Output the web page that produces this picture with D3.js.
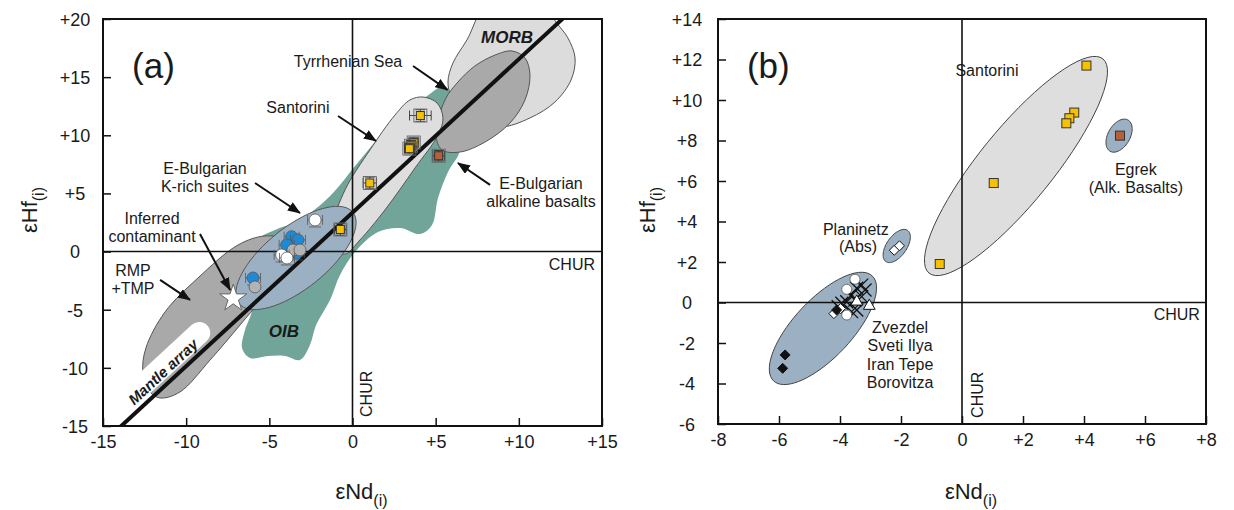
<!DOCTYPE html>
<html>
<head>
<meta charset="utf-8">
<script src="https://d3js.org/d3.v7.min.js"></script>
<style>
  body { margin: 0; background: #fff; }
  text { font-family: "Liberation Sans", Arial, sans-serif; fill: #1a1a1a; }
</style>
</head>
<body>
<svg id="chart" width="1234" height="510"></svg>
<script>
// ---- values: [eNd, eHf] ----
// Santorini lavas (same samples in both panels)
const santoriniNd = [4.08, 3.68, 3.52, 3.42, 1.04, -0.73];
const santoriniHf = [11.7, 9.38, 9.1, 8.85, 5.9, 1.9];
const santoriniErrNd = [0.65, 0.3, 0.3, 0.3, 0.4, 0.35];
const santoriniErrHf = [0.5, 0.45, 0.45, 0.45, 0.5, 0.5];
// E-Bulgarian alkaline basalts (Egrek)
const egrekNd = [5.18];
const egrekHf = [8.24];

// panel a: K-rich suites
const blueNd = [-3.66, -3.28, -3.96, -3.35, -5.98];
const blueHf = [1.28, 1.0, 0.57, -0.12, -2.27];
const grayNd = [-3.58, -3.16, -5.86];
const grayHf = [0.14, 0.14, -3.04];
const whiteNd = [-2.25, -4.26, -3.94];
const whiteHf = [2.72, -0.29, -0.55];
const contaminant = [-7.17, -4.02];

// panel b: K-rich localities
const planinetzNd = [-2.22, -2.05];
const planinetzHf = [2.58, 2.8];
const blackDiaNd = [-4.11, -5.8, -5.88];
const blackDiaHf = [-0.37, -2.59, -3.25];
const whiteDiaNd = [-4.2, -3.98];
const whiteDiaHf = [-0.55, -0.3];
const circNd = [-3.51, -3.78, -3.78];
const circHf = [1.15, 0.65, -0.62];
const triNd = [-3.04, -3.45];
const triHf = [-0.17, 0.04];
const crossNd = [-3.29, -3.45, -3.62, -3.51, -3.78, -3.94, -4.06, -3.45, -3.29, -3.18, -3.62];
const crossHf = [0.86, 0.7, 0.37, 0.12, 0.04, -0.04, -0.21, -0.37, 0.29, 0.62, -0.45];

// reference fields, panel a (outline vertices)
const oibField = [[5.56,14.24],[6.16,11.75],[6.46,8.74],[5.74,6.85],[5.14,4.61],[4.78,2.29],[4.06,1.51],[2.86,2.03],[1.53,1.69],[0.15,-0.03],[-0.75,-2.01],[-1.35,-4.16],[-2.19,-6.31],[-2.56,-8.03],[-3.16,-9.32],[-4.06,-8.98],[-5.08,-8.98],[-6.16,-9.15],[-6.64,-8.29],[-6.46,-6.74],[-6.04,-5.02],[-6.16,-2.44],[-5.68,1.0],[-4.66,1.86],[-3.16,2.72],[-1.35,4.78],[0.45,7.88],[2.56,11.32],[4.48,13.38]];
const morbField = [[8.27,21.64],[11.27,21.64],[12.23,19.74],[12.95,18.37],[13.38,16.65],[13.14,14.76],[12.17,12.86],[10.67,11.49],[8.87,10.71],[7.06,11.49],[5.98,13.21],[5.74,14.58],[6.04,16.22],[6.88,18.2]];
const rmpField = [[-11.57,-12.59],[-12.17,-12.07],[-12.6,-10.35],[-12.42,-8.29],[-11.27,-5.19],[-9.29,-2.27],[-6.88,0.57],[-5.26,1.34],[-4.06,1.0],[-4.36,-0.89],[-5.56,-4.16],[-6.76,-6.31],[-8.56,-9.32],[-10.37,-12.07]];
const tyrrField = [[5.56,13.04],[6.34,14.58],[7.36,15.96],[8.57,16.9],[9.59,17.25],[10.37,16.65],[10.67,15.19],[10.37,13.04],[9.47,11.06],[7.97,9.42],[6.46,8.56],[5.38,8.74],[5.02,10.03]];
const santoriniFieldA = [[4.24,13.29],[5.08,12.78],[5.44,11.49],[5.14,10.03],[3.76,7.19],[1.95,3.58],[0.45,1.0],[-0.45,-0.21],[-1.05,0.31],[-1.17,2.29],[-0.45,5.3],[1.05,8.74],[2.56,11.75],[3.46,13.04]];
// ellipses: centre, major and minor semi-axis vectors (data units)
const kRichEllipse = {c: [-3.4, -0.55], a: [3.42, 3.93], b: [1.17, -2.07]};
const mantleArray = [[-14.66,-16.0],[13.45,21.1]];

// fields, panel b
const santoriniEllipseB = {c: [1.77, 6.74], a: [2.85, 5.29], b: [0.94, -1.15]};
const egrekEllipse = {c: [5.15, 8.24], a: [0.295, 0.77], b: [0.312, -0.272]};
const planinetzEllipse = {c: [-2.14, 2.79], a: [0.357, 0.77], b: [0.269, -0.283]};
const zvezdelEllipse = {c: [-4.56, -1.28], a: [1.616, 2.593], b: [0.692, -0.983]};

// tick values
const ticksAx = [-15, -10, -5, 0, 5, 10, 15];
const ticksAy = [-15, -10, -5, 0, 5, 10, 15, 20];
const ticksBx = [-8, -6, -4, -2, 0, 2, 4, 6, 8];
const ticksBy = [-6, -4, -2, 0, 2, 4, 6, 8, 10, 12, 14];

// annotations (anchored in data units)
const labelsA = [
  {lines: ['Tyrrhenian Sea'], nd: -0.27, hf: 15.87},
  {lines: ['Santorini'], nd: -3.28, hf: 11.91},
  {lines: ['E-Bulgarian', 'K-rich suites'], nd: -8.87, hf: 6.67},
  {lines: ['Inferred', 'contaminant'], nd: -12.05, hf: 2.37},
  {lines: ['RMP', '+TMP'], nd: -13.2, hf: -2.1},
  {lines: ['E-Bulgarian', 'alkaline basalts'], nd: 11.33, hf: 5.38}
];
const arrowsA = [
  [[3.64,15.96],[5.71,13.9]],
  [[-0.87,11.66],[1.41,9.51]],
  [[-5.86,5.9],[-3.16,3.32]],
  [[-9.17,1.51],[-7.36,-3.3]],
  [[-11.57,-2.44],[-9.77,-4.16]],
  [[8.27,5.73],[6.34,7.62]]
];
const labelsB = [
  {lines: ['Santorini'], nd: 0.82, hf: 11.19},
  {lines: ['Egrek', '(Alk. Basalts)'], nd: 5.7, hf: 6.3},
  {lines: ['Planinetz'], nd: -3.48, hf: 3.33},
  {lines: ['(Abs)'], nd: -3.41, hf: 2.49},
  {lines: ['Zvezdel', 'Sveti Ilya', 'Iran Tepe', 'Borovitza'], nd: -2.03, hf: -1.51}
];

const svg = d3.select('#chart');
const defs = svg.append('defs');
defs.append('marker')
  .attr('id', 'head')
  .attr('markerUnits', 'userSpaceOnUse')
  .attr('markerWidth', 13).attr('markerHeight', 11)
  .attr('refX', 12).attr('refY', 5)
  .attr('orient', 'auto')
  .append('path').attr('d', 'M0,0 L13,5 L0,10 Z').attr('fill', '#111');

const fmt = d => d > 0 ? '+' + d : String(d);
const smooth = d3.line().curve(d3.curveCatmullRomClosed.alpha(0.5));
const closed = d3.line().curve(d3.curveLinearClosed);

function makePanel(id, x, y, tx, ty, labelX, titleX) {
  const [x0, x1] = x.range(), [y1, y0] = y.range();
  defs.append('clipPath').attr('id', 'clip' + id)
    .append('rect').attr('x', x0).attr('y', y0).attr('width', x1 - x0).attr('height', y1 - y0);
  const g = svg.append('g');
  const clip = g.append('g').attr('clip-path', `url(#clip${id})`);

  const ax = g.append('g').attr('transform', `translate(0,${y1})`)
    .call(d3.axisBottom(x).tickValues(tx).tickFormat(fmt).tickSizeInner(-8).tickSizeOuter(0).tickPadding(9));
  const ay = g.append('g').attr('transform', `translate(${x0},0)`)
    .call(d3.axisLeft(y).tickValues(ty).tickFormat(fmt).tickSizeInner(-8).tickSizeOuter(0));
  [ax, ay].forEach(a => {
    a.select('.domain').remove();
    a.selectAll('line').attr('stroke', '#111').attr('stroke-width', 1.5);
    a.selectAll('text').attr('font-size', 18).attr('font-family', '"Liberation Sans", Arial, sans-serif').attr('fill', '#1a1a1a');
  });
  ay.selectAll('text').attr('text-anchor', 'middle').attr('x', labelX - x0).attr('dy', '0.35em');

  // axis titles
  const xt = g.append('text').attr('x', (x0 + x1) / 2 + 9).attr('y', 499)
    .attr('text-anchor', 'middle').attr('font-size', 22);
  xt.append('tspan').text('εNd');
  xt.append('tspan').attr('font-size', 16).attr('dy', 7).text('(i)');
  const yt = g.append('text').attr('transform', `translate(${titleX},210) rotate(-90)`)
    .attr('text-anchor', 'middle').attr('font-size', 22);
  yt.append('tspan').text('εHf');
  yt.append('tspan').attr('font-size', 16).attr('dy', 7).text('(i)');

  return {g, clip, x, y, x0, x1, y0, y1};
}

function field(p, pts, fill, stroke) {
  p.clip.append('path')
    .attr('d', smooth(pts.map(d => [p.x(d[0]), p.y(d[1])])))
    .attr('fill', fill)
    .attr('stroke', stroke || 'none')
    .attr('stroke-width', 1);
}

function ellipse(p, e, fill, stroke) {
  const pts = d3.range(72).map(i => {
    const t = i / 72 * 2 * Math.PI, c = Math.cos(t), s = Math.sin(t);
    return [p.x(e.c[0] + c * e.a[0] + s * e.b[0]), p.y(e.c[1] + c * e.a[1] + s * e.b[1])];
  });
  p.clip.append('path').attr('d', closed(pts))
    .attr('fill', fill).attr('stroke', stroke).attr('stroke-width', 1);
}

function frame(p) {
  p.g.append('line').attr('x1', p.x(0)).attr('x2', p.x(0)).attr('y1', p.y0).attr('y2', p.y1)
    .attr('stroke', '#111').attr('stroke-width', 1.6);
  p.g.append('line').attr('x1', p.x0).attr('x2', p.x1).attr('y1', p.y(0)).attr('y2', p.y(0))
    .attr('stroke', '#111').attr('stroke-width', 1.6);
  p.g.append('rect').attr('x', p.x0).attr('y', p.y0).attr('width', p.x1 - p.x0).attr('height', p.y1 - p.y0)
    .attr('fill', 'none').attr('stroke', '#111').attr('stroke-width', 2);
}

function labels(p, list) {
  list.forEach(l => {
    const t = p.g.append('text').attr('x', p.x(l.nd)).attr('y', p.y(l.hf))
      .attr('text-anchor', 'middle').attr('font-size', 16);
    l.lines.forEach((s, i) => t.append('tspan').attr('x', p.x(l.nd)).attr('dy', i ? 18.3 : 0).text(s));
  });
}

function squares(p, nd, hf, fill, size, errNd, errHf) {
  const g = p.g.append('g');
  nd.forEach((v, i) => {
    const cx = p.x(v), cy = p.y(hf[i]);
    if (errNd) {
      const xl = p.x(v - errNd[i]), xr = p.x(v + errNd[i]);
      const yt = p.y(hf[i] + errHf[i]), yb = p.y(hf[i] - errHf[i]);
      const e = g.append('g').attr('stroke', '#333').attr('stroke-width', 0.9).attr('fill', 'none');
      e.append('line').attr('x1', xl).attr('x2', xr).attr('y1', cy).attr('y2', cy);
      e.append('line').attr('x1', xl).attr('x2', xl).attr('y1', cy - 5).attr('y2', cy + 5);
      e.append('line').attr('x1', xr).attr('x2', xr).attr('y1', cy - 5).attr('y2', cy + 5);
      e.append('line').attr('x1', cx).attr('x2', cx).attr('y1', yt).attr('y2', yb);
      e.append('line').attr('x1', cx - 5).attr('x2', cx + 5).attr('y1', yt).attr('y2', yt);
      e.append('line').attr('x1', cx - 5).attr('x2', cx + 5).attr('y1', yb).attr('y2', yb);
      e.append('rect').attr('x', cx - 6.5).attr('y', cy - 6.5).attr('width', 13).attr('height', 13)
        .attr('stroke', '#666');
    }
    g.append('rect').attr('x', cx - size / 2).attr('y', cy - size / 2)
      .attr('width', size).attr('height', size)
      .attr('fill', fill).attr('stroke', '#333').attr('stroke-width', 1);
  });
}

function circles(p, nd, hf, fill, r, err) {
  const g = p.g.append('g');
  nd.forEach((v, i) => {
    const cx = p.x(v), cy = p.y(hf[i]);
    if (err) {
      const e = g.append('g').attr('stroke', '#555').attr('stroke-width', 0.8);
      const xl = p.x(v - 0.45), xr = p.x(v + 0.45);
      e.append('line').attr('x1', xl).attr('x2', xr).attr('y1', cy).attr('y2', cy);
      e.append('line').attr('x1', xl).attr('x2', xl).attr('y1', cy - 5).attr('y2', cy + 5);
      e.append('line').attr('x1', xr).attr('x2', xr).attr('y1', cy - 5).attr('y2', cy + 5);
      e.append('line').attr('x1', cx - 6).attr('x2', cx + 6).attr('y1', cy + 7).attr('y2', cy + 7);
    }
    g.append('circle').attr('cx', cx).attr('cy', cy).attr('r', r)
      .attr('fill', fill).attr('stroke', '#555').attr('stroke-width', 0.8);
  });
}

function diamonds(p, nd, hf, fill, r) {
  p.g.append('g').selectAll('path').data(nd).join('path')
    .attr('d', (v, i) => {
      const cx = p.x(v), cy = p.y(hf[i]);
      return `M${cx},${cy - r}L${cx + r},${cy}L${cx},${cy + r}L${cx - r},${cy}Z`;
    })
    .attr('fill', fill).attr('stroke', '#111').attr('stroke-width', 1);
}

// ---------------- panel (a) ----------------
const xa = d3.scaleLinear().domain([-15, 15]).range([103, 602]);
const ya = d3.scaleLinear().domain([-15, 20]).range([426, 19]);
const A = makePanel('a', xa, ya, ticksAx, ticksAy, 75, 37);

field(A, oibField, '#71a59a');
field(A, morbField, '#dcdcdc', '#555');
field(A, rmpField, '#a9a9a9', '#555');
field(A, tyrrField, '#a9a9a9', '#555');
field(A, santoriniFieldA, '#dedede', '#555');
ellipse(A, kRichEllipse, '#9bb0c2', '#555');

// mantle array label background + line
const mA = mantleArray.map(d => [xa(d[0]), ya(d[1])]);
const mAngle = Math.atan2(mA[1][1] - mA[0][1], mA[1][0] - mA[0][0]) * 180 / Math.PI;
const mLab = [xa(-11.39), ya(-10.34)];
A.clip.append('rect')
  .attr('transform', `translate(${mLab[0]},${mLab[1]}) rotate(${mAngle})`)
  .attr('x', -58).attr('y', -15).attr('width', 122).attr('height', 22).attr('rx', 11)
  .attr('fill', '#fff');
A.clip.append('line')
  .attr('x1', mA[0][0]).attr('y1', mA[0][1]).attr('x2', mA[1][0]).attr('y2', mA[1][1])
  .attr('stroke', '#111').attr('stroke-width', 4);
A.g.append('text')
  .attr('transform', `translate(${mLab[0]},${mLab[1]}) rotate(${mAngle})`)
  .attr('text-anchor', 'middle').attr('dy', '0.35em')
  .attr('font-size', 15).attr('font-weight', 'bold').attr('font-style', 'italic')
  .text('Mantle array');

frame(A);

A.g.append('text').attr('x', xa(9.29)).attr('y', ya(17.94)).attr('text-anchor', 'middle')
  .attr('font-size', 17).attr('font-weight', 'bold').attr('font-style', 'italic').attr('fill', '#333')
  .text('MORB');
A.g.append('text').attr('x', xa(-4.12)).attr('y', ya(-7.36)).attr('text-anchor', 'middle')
  .attr('font-size', 17).attr('font-weight', 'bold').attr('font-style', 'italic').attr('fill', '#333')
  .text('OIB');

squares(A, santoriniNd, santoriniHf, '#f6c100', 8, santoriniErrNd, santoriniErrHf);
squares(A, egrekNd, egrekHf, '#b5603a', 8, [0.35], [0.45]);
circles(A, blueNd, blueHf, '#1e8ad6', 6, true);
circles(A, grayNd, grayHf, '#b3b3b3', 6, false);
circles(A, whiteNd, whiteHf, '#fff', 6, true);
A.g.append('path')
  .attr('transform', `translate(${xa(contaminant[0])},${ya(contaminant[1])})`)
  .attr('d', d3.symbol(d3.symbolStar, 230)())
  .attr('fill', '#fff').attr('stroke', '#666').attr('stroke-width', 1);

labels(A, labelsA);
A.g.selectAll('.arrow').data(arrowsA).join('line')
  .attr('x1', d => xa(d[0][0])).attr('y1', d => ya(d[0][1]))
  .attr('x2', d => xa(d[1][0])).attr('y2', d => ya(d[1][1]))
  .attr('stroke', '#111').attr('stroke-width', 2).attr('marker-end', 'url(#head)');

A.g.append('text').attr('x', xa(14.58)).attr('y', ya(-1.58)).attr('text-anchor', 'end')
  .attr('font-size', 16).text('CHUR');
A.g.append('text').attr('transform', `translate(${xa(1.17)},${ya(-14.22)}) rotate(-90)`)
  .attr('font-size', 16).text('CHUR');
A.g.append('text').attr('x', xa(-13.25)).attr('y', ya(14.93)).attr('font-size', 35).text('(a)');

// ---------------- panel (b) ----------------
const xb = d3.scaleLinear().domain([-8, 8]).range([718, 1206]);
const yb = d3.scaleLinear().domain([-6, 14]).range([424, 19]);
const B = makePanel('b', xb, yb, ticksBx, ticksBy, 687, 655);

ellipse(B, santoriniEllipseB, '#dedede', '#444');
ellipse(B, egrekEllipse, '#9bb0c2', '#444');
ellipse(B, planinetzEllipse, '#9bb0c2', '#444');
ellipse(B, zvezdelEllipse, '#9bb0c2', '#444');
frame(B);

squares(B, santoriniNd, santoriniHf, '#f6c100', 9);
squares(B, egrekNd, egrekHf, '#b5603a', 9);
diamonds(B, planinetzNd, planinetzHf, '#fff', 5);

B.g.append('g').selectAll('path').data(crossNd).join('path')
  .attr('d', (v, i) => {
    const cx = xb(v), cy = yb(crossHf[i]), r = 6.5;
    return `M${cx - r},${cy - r}L${cx + r},${cy + r}M${cx - r},${cy + r}L${cx + r},${cy - r}`;
  })
  .attr('stroke', '#111').attr('stroke-width', 1.3);
circles(B, circNd, circHf, '#fff', 5, false);
diamonds(B, whiteDiaNd, whiteDiaHf, '#fff', 5);
diamonds(B, blackDiaNd, blackDiaHf, '#111', 5);
B.g.append('g').selectAll('path').data(triNd).join('path')
  .attr('transform', (v, i) => `translate(${xb(v)},${yb(triHf[i])})`)
  .attr('d', d3.symbol(d3.symbolTriangle, 60)())
  .attr('fill', '#fff').attr('stroke', '#111').attr('stroke-width', 1);

labels(B, labelsB);
B.g.append('text').attr('x', xb(7.8)).attr('y', yb(-0.86)).attr('text-anchor', 'end')
  .attr('font-size', 16).text('CHUR');
B.g.append('text').attr('transform', `translate(${xb(0.69)},${yb(-5.7)}) rotate(-90)`)
  .attr('font-size', 16).text('CHUR');
B.g.append('text').attr('x', xb(-7.05)).attr('y', yb(11.09)).attr('font-size', 35).text('(b)');
</script>
</body>
</html>
